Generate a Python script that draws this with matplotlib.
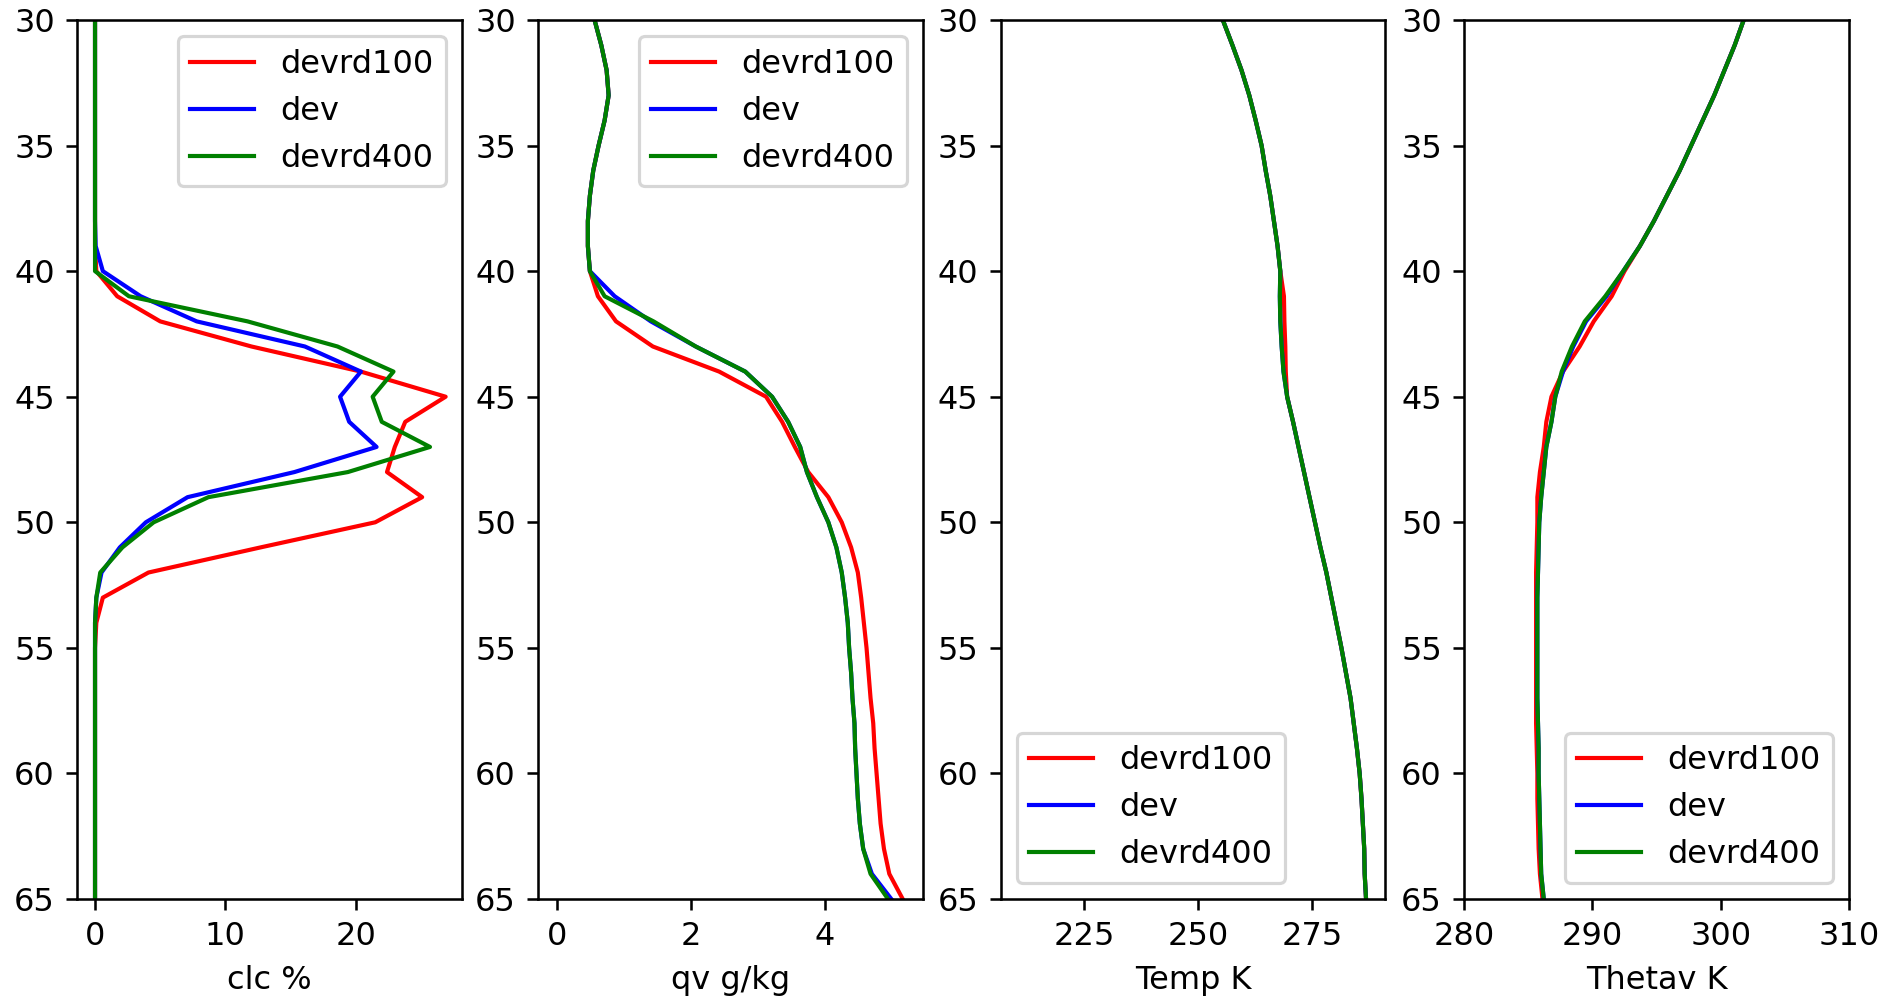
import numpy as np
import matplotlib.pyplot as plt

lev = np.arange(30, 66)

# cloud cover %
clc_rd100 = [0]*10 + [0.1, 1.7, 5.0, 12.0, 20.4, 26.9, 23.8, 23.0, 22.4, 25.1, 21.5, 12.7, 4.1, 0.6, 0.1] + [0]*11
clc_dev = [0]*9 + [0.05, 0.6, 3.5, 7.8, 16.1, 20.4, 18.8, 19.5, 21.6, 15.3, 7.1, 3.9, 1.9, 0.5, 0.1, 0] + [0]*11
clc_rd400 = [0]*10 + [0, 2.6, 11.7, 18.6, 22.9, 21.3, 22.0, 25.7, 19.4, 8.7, 4.5, 2.1, 0.4, 0.1, 0] + [0]*11

# specific humidity g/kg
qv_top = [0.56, 0.66, 0.74, 0.77, 0.71, 0.62, 0.54, 0.49, 0.46, 0.46]
qv_rd100 = qv_top + [0.49, 0.61, 0.88, 1.43, 2.42, 3.12, 3.36, 3.55, 3.75, 4.05, 4.25, 4.39, 4.49,
                     4.54, 4.58, 4.62, 4.65, 4.68, 4.72, 4.74, 4.77, 4.80, 4.83, 4.88, 4.96, 5.16]
qv_dev = qv_top + [0.49, 0.86, 1.40, 2.07, 2.81, 3.21, 3.45, 3.63, 3.73, 3.88, 4.05, 4.17, 4.25,
                   4.30, 4.34, 4.36, 4.39, 4.41, 4.44, 4.45, 4.47, 4.49, 4.52, 4.57, 4.70, 4.99]
qv_rd400 = qv_top + [0.49, 0.71, 1.44, 2.07, 2.81, 3.21, 3.45, 3.63, 3.73, 3.88, 4.05, 4.17, 4.25,
                     4.30, 4.34, 4.36, 4.39, 4.41, 4.44, 4.45, 4.47, 4.49, 4.52, 4.57, 4.68, 4.94]

# temperature K
t_top = [255.4, 257.5, 259.5, 261.2, 262.6, 263.9, 264.8, 265.8, 266.6, 267.4, 268.0]
t_bot = [269.5, 270.8, 272.0, 273.2, 274.4, 275.6, 276.8, 278.1, 279.2, 280.3, 281.4,
         282.4, 283.4, 284.1, 284.8, 285.4, 285.8, 286.1, 286.4, 286.5, 286.8]
t_rd100 = t_top + [268.8, 268.9, 269.1, 269.2] + t_bot
t_dev = t_top + [267.9, 268.0, 268.3, 268.7] + t_bot
t_rd400 = t_top + [267.9, 268.0, 268.3, 268.7] + t_bot

# virtual potential temperature K
th_top = [301.8, 301.1, 300.3, 299.5, 298.6, 297.7, 296.8, 295.8, 294.8, 293.7]
th_rd100 = th_top + [292.5, 291.5, 290.1, 289.0, 287.7, 286.8, 286.4, 286.2, 285.9, 285.7,
                     285.7, 285.65, 285.6, 285.6, 285.6, 285.6, 285.6, 285.6, 285.6, 285.65,
                     285.7, 285.7, 285.75, 285.8, 285.9, 286.1]
th_dev = th_top + [292.4, 291.1, 289.5, 288.5, 287.7, 287.1, 286.8, 286.4, 286.2, 286.0,
                   285.85, 285.8, 285.75, 285.7, 285.7, 285.7, 285.7, 285.7, 285.75, 285.8,
                   285.8, 285.85, 285.9, 285.95, 286.0, 286.2]
th_rd400 = th_top + [292.4, 291.0, 289.4, 288.4, 287.6, 287.1, 286.8, 286.4, 286.2, 286.0,
                     285.85, 285.8, 285.75, 285.7, 285.7, 285.7, 285.7, 285.7, 285.75, 285.8,
                     285.8, 285.85, 285.9, 285.95, 286.0, 286.2]

names = ['devrd100', 'dev', 'devrd400']
cols = ['r', 'b', 'g']

dpi = 230
fig = plt.figure(figsize=(1880/dpi, 998/dpi), dpi=dpi)
lefts = [77.3, 538.3, 1000.7, 1464.3]
axs = [fig.add_axes([l/1880, 99/998, 384.5/1880, 879/998]) for l in lefts]

panels = [
    ([clc_rd100, clc_dev, clc_rd400], 'clc %', (-1.36, 28.14), 'upper right', [0, 10, 20]),
    ([qv_rd100, qv_dev, qv_rd400], 'qv g/kg', (-0.28, 5.46), 'upper right', [0, 2, 4]),
    ([t_rd100, t_dev, t_rd400], 'Temp K', (206.7, 291.0), 'lower left', [225, 250, 275]),
    ([th_rd100, th_dev, th_rd400], 'Thetav K', (280, 310), 'lower right', [280, 290, 300, 310]),
]

for ax, (data, lab, xl, loc, xt) in zip(axs, panels):
    for d, c, n in zip(data, cols, names):
        ax.plot(d, lev, c, label=n, lw=1.3)
    ax.set_ylim(65, 30)
    ax.set_xlim(xl)
    ax.set_xticks(xt)
    ax.set_xlabel(lab)
    ax.legend(loc=loc)

plt.savefig('out.png', dpi=dpi)
